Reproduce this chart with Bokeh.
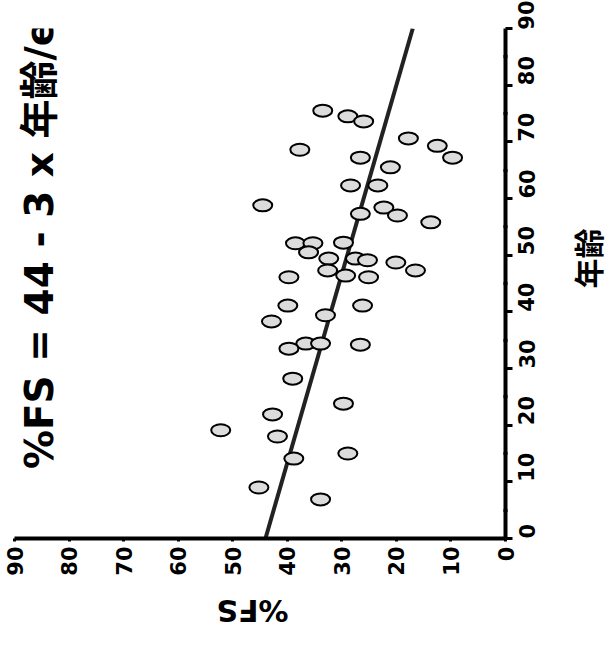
import math
from bokeh.plotting import figure
from bokeh.models import Range1d, LinearAxis, FixedTicker, Label
from bokeh.layouts import column, row
from bokeh.embed import file_html
from bokeh.resources import INLINE

# %FS values and ages
fs_values = [33.5, 28.9, 26.0, 37.7, 26.6, 17.8, 12.5, 9.7, 21.1, 28.4,
             23.4, 44.5, 26.6, 22.3, 19.8, 13.7, 38.5, 35.3, 36.1, 29.7,
             32.4, 27.5, 25.3, 32.6, 29.3, 25.1, 20.1, 16.5, 39.7, 39.9,
             26.2, 33.0, 42.9, 36.6, 39.7, 33.9, 26.6, 39.0, 29.7, 42.7,
             52.2, 41.8, 38.8, 28.9, 45.2, 33.9]
ages = [75.5, 74.5, 73.6, 68.6, 67.2, 70.6, 69.3, 67.2, 65.5, 62.3,
        62.3, 58.8, 57.3, 58.4, 57.0, 55.8, 52.1, 52.1, 50.5, 52.2,
        49.4, 49.4, 49.1, 47.3, 46.4, 46.1, 48.7, 47.3, 46.1, 41.1,
        41.1, 39.4, 38.3, 34.4, 33.5, 34.4, 34.2, 28.2, 23.8, 21.9,
        19.1, 18.0, 14.1, 15.0, 9.0, 6.9]

# regression: %FS = 44 - 3 x age/10
fit_intercept = 44.0
fit_slope_per_decade = 3.0
fit_ages = [0, 90]
fit_fs = [fit_intercept - fit_slope_per_decade * a / 10 for a in fit_ages]

age_ticks = [0, 10, 20, 30, 40, 50, 60, 70, 80, 90]
age_minor = [5, 15, 25, 35, 45, 55, 65, 75, 85]
fs_ticks = [0, 10, 20, 30, 40, 50, 60, 70, 80, 90]

title_text = "%FS = 44 - 3 x 年齢/e"
age_label = "年齢"
fs_label = "%FS"

FONT = "DejaVu Sans, Noto Sans CJK JP"


def bare(fig):
    fig.grid.visible = False
    fig.outline_line_color = None
    fig.background_fill_color = "white"
    return fig


p = bare(figure(width=565, height=590, output_backend="svg", toolbar_location=None,
                x_range=Range1d(90, 0), y_range=Range1d(0, 90),
                x_axis_location=None, y_axis_location=None,
                min_border_left=14, min_border_right=60,
                min_border_top=28, min_border_bottom=52))

# bottom axis (%FS), reversed
xa = LinearAxis(ticker=FixedTicker(ticks=fs_ticks))
xa.axis_line_width = 4
xa.axis_line_color = "black"
xa.major_tick_line_width = 3
xa.major_tick_out = 3
xa.major_tick_in = 0
xa.minor_tick_line_color = None
xa.major_label_orientation = math.pi / 2
xa.major_label_text_font = FONT
xa.major_label_text_font_style = "bold"
xa.major_label_text_font_size = "21px"
xa.major_label_text_color = "black"
xa.major_label_standoff = 5
p.add_layout(xa, "below")

# right axis (age)
ya = LinearAxis(ticker=FixedTicker(ticks=age_ticks, minor_ticks=age_minor))
ya.axis_line_width = 4
ya.axis_line_color = "black"
ya.major_tick_line_width = 3
ya.major_tick_out = 7
ya.major_tick_in = 0
ya.minor_tick_line_width = 3
ya.minor_tick_out = 2
ya.minor_tick_in = 2
ya.major_label_orientation = math.pi / 2
ya.major_label_text_font = FONT
ya.major_label_text_font_style = "bold"
ya.major_label_text_font_size = "21px"
ya.major_label_text_color = "black"
ya.major_label_standoff = 14
p.add_layout(ya, "right")

# regression line
p.line(fit_fs, fit_ages, line_color="#222222", line_width=4)

# data points as ellipses
p.ellipse(x=fs_values, y=ages, width=19, height=12,
          width_units="screen", height_units="screen",
          fill_color="#dcdcdc", line_color="black", line_width=2)

p.add_layout(Label(x=85.5, y=51.9, text=title_text, angle=math.pi / 2,
                   text_align="center", text_baseline="middle",
                   text_font=FONT, text_font_style="bold",
                   text_font_size="39px", text_color="black"))

# strip at the right carrying the age axis title (reads bottom to top)
r = bare(figure(width=46, height=590, output_backend="svg", toolbar_location=None,
                x_range=Range1d(0, 46), y_range=Range1d(0, 590),
                x_axis_location=None, y_axis_location=None,
                min_border_left=0, min_border_right=0,
                min_border_top=0, min_border_bottom=0))
r.add_layout(Label(x=24, y=324, text=age_label, angle=math.pi / 2,
                   text_align="center", text_baseline="middle",
                   text_font=FONT, text_font_style="bold",
                   text_font_size="30px", text_color="black"))

# strip under the chart carrying the upside-down %FS axis title
q = bare(figure(width=611, height=55, output_backend="svg", toolbar_location=None,
                x_range=Range1d(0, 611), y_range=Range1d(0, 55),
                x_axis_location=None, y_axis_location=None,
                min_border_left=0, min_border_right=0,
                min_border_top=0, min_border_bottom=0))
q.add_layout(Label(x=252, y=35, text=fs_label, angle=math.pi,
                   text_align="center", text_baseline="middle",
                   text_font=FONT, text_font_style="bold",
                   text_font_size="30px", text_color="black"))

layout = column(row(p, r, spacing=0), q, spacing=0)
open("out.html", "w").write(file_html(layout, INLINE))
